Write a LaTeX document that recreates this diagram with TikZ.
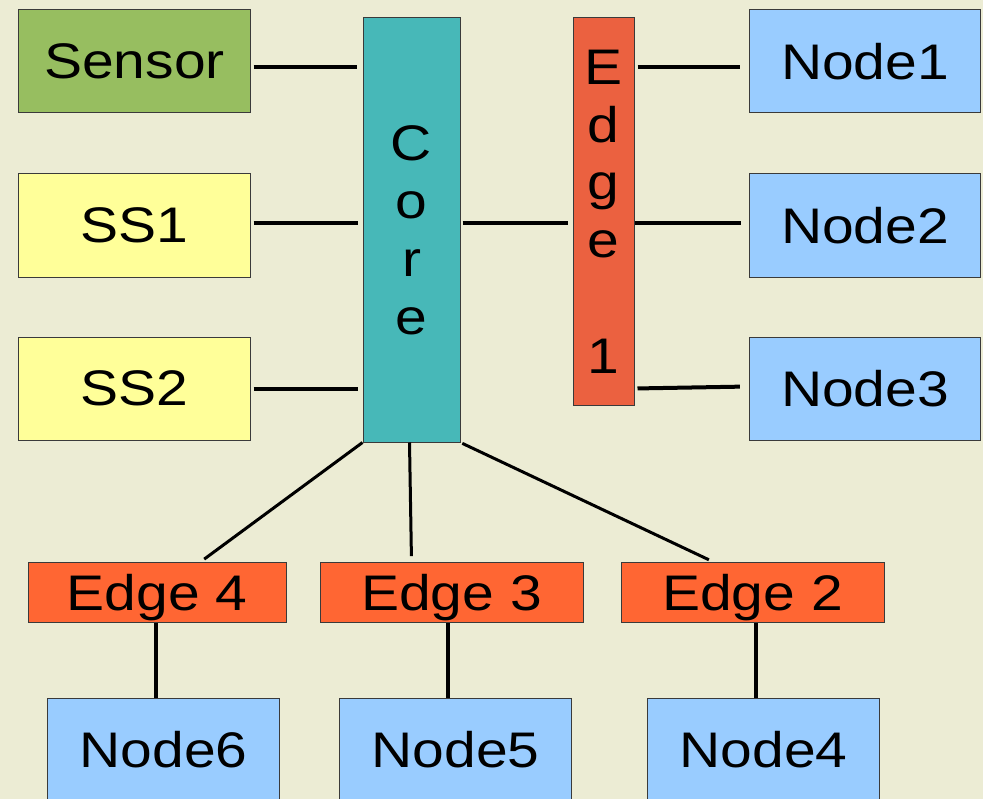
\documentclass[tikz,border=0pt]{standalone}
\usepackage{fontspec}
\setmainfont{Liberation Sans}[FakeStretch=1.14]
\definecolor{bgcol}{HTML}{ECECD4}
\definecolor{boxline}{HTML}{3A3A3A}
\definecolor{sensorgreen}{HTML}{97BE60}
\definecolor{ssyellow}{HTML}{FFFF99}
\definecolor{coreteal}{HTML}{47B8B8}
\definecolor{edgeone}{HTML}{EB6140}
\definecolor{edgelow}{HTML}{FF6633}
\definecolor{nodeblue}{HTML}{99CCFF}

\begin{document}
\begin{tikzpicture}[x=0.75pt, y=-0.75pt,
    box/.style={draw=boxline, line width=0.75pt, inner sep=0pt, text depth=0pt,
      font=\fontsize{37.5}{43.3}\selectfont},
    wide/.style={box, minimum width=173.5pt, minimum height=77.25pt},
    edgebox/.style={box, fill=edgelow, minimum height=45pt},
    bar/.style={box, align=center},
    link/.style={line width=3pt},
    slant/.style={line width=2.25pt}]
    \fill[bgcol] (0,0) rectangle (983,799);
    \useasboundingbox (0,0) rectangle (983,799);

    % left column and core
    \node[wide, fill=sensorgreen] (sensor) at (134.5,61.5) {Sensor};
    \node[wide, fill=ssyellow] (ss1) at (134.5,225.5) {SS1};
    \node[wide, fill=ssyellow] (ss2) at (134.5,388.5) {SS2};
    \node[bar, fill=coreteal, minimum width=72.75pt, minimum height=318pt] (core) at (411.5,230) {C\\o\\r\\e};

    % edge 1 and its nodes
    \node[bar, fill=edgeone, minimum width=45.75pt, minimum height=290.25pt] (e1) at (603.5,211.5) {E\\d\\g\\e\\~\\1};
    \node[wide, fill=nodeblue] (n1) at (865,61.5) {Node1};
    \node[wide, fill=nodeblue] (n2) at (865,225.5) {Node2};
    \node[wide, fill=nodeblue] (n3) at (865,388.5) {Node3};

    % lower edges and nodes
    \node[edgebox, minimum width=193.5pt] (e4) at (157,592) {Edge 4};
    \node[edgebox, minimum width=197.25pt] (e3) at (451.5,592) {Edge 3};
    \node[edgebox, minimum width=197.25pt] (e2) at (752.5,592) {Edge 2};
    \node[wide, fill=nodeblue] (n6) at (163.5,749.5) {Node6};
    \node[wide, fill=nodeblue] (n5) at (455.5,749.5) {Node5};
    \node[wide, fill=nodeblue] (n4) at (763.5,749.5) {Node4};

    \draw[link, shorten <=2.25pt, shorten >=4.5pt] ([yshift=-4pt]sensor.east) -- ([yshift=-4pt]sensor.east -| core.west);
    \draw[link, shorten <=2.25pt, shorten >=3.75pt] ([yshift=2pt]ss1.east) -- ([yshift=2pt]ss1.east -| core.west);
    \draw[link, shorten <=2.25pt, shorten >=3.75pt] (ss2.east) -- (ss2.east -| core.west);
    \draw[link, shorten <=1.5pt, shorten >=3.75pt] ([yshift=2pt]ss1.east -| core.east) -- ([yshift=2pt]ss1.east -| e1.west);

    \draw[link, shorten <=2.25pt, shorten >=6.75pt] ([yshift=-4pt]n1.west -| e1.east) -- ([yshift=-4pt]n1.west);
    \draw[link, shorten >=6pt] ([yshift=2pt]n2.west -| e1.east) -- ([yshift=2pt]n2.west);
    \draw[link, shorten <=2.25pt, shorten >=6.75pt] (n3.west -| e1.east) -- ([yshift=1.5pt]n3.west);

    \draw[slant, shorten >=3pt] (core.south west) -- ([xshift=33pt]e4.north);
    \draw[slant, shorten >=4pt] ([xshift=-1.5pt]core.south) -- ([xshift=-30pt]e3.north);
    \draw[slant, shorten <=1.5pt, shorten >=3pt] (core.south east) -- ([xshift=-30pt]e2.north);

    \draw[link] ([xshift=-0.75pt]e4.south) -- ([xshift=-0.75pt]e4.south |- n6.north);
    \draw[link] ([xshift=-2.5pt]e3.south) -- ([xshift=-2.5pt]e3.south |- n5.north);
    \draw[link] ([xshift=2.5pt]e2.south) -- ([xshift=2.5pt]e2.south |- n4.north);
\end{tikzpicture}
\end{document}
